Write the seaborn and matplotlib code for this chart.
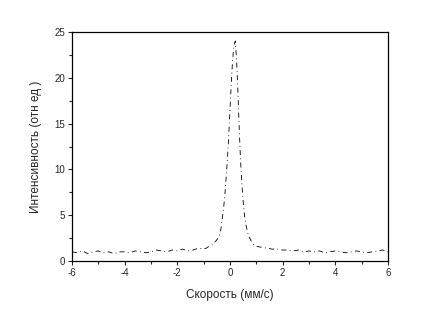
import numpy as np
import pandas as pd
import matplotlib
matplotlib.use("Agg")
import matplotlib.pyplot as plt
from matplotlib.ticker import MultipleLocator
import seaborn as sns

# Left wing: -6.0 .. -1.0 step 0.2
left_x = [-6.0, -5.8, -5.6, -5.4, -5.2, -5.0, -4.8, -4.6, -4.4, -4.2, -4.0, -3.8, -3.6,
          -3.4, -3.2, -3.0, -2.8, -2.6, -2.4, -2.2, -2.0, -1.8, -1.6, -1.4, -1.2, -1.0]
left_y = [1.0, 0.9, 1.1, 0.8, 1.0, 1.1, 0.9, 1.0, 0.8, 1.0, 1.0, 0.9, 1.1,
          1.0, 0.9, 1.0, 1.2, 1.1, 1.0, 1.2, 1.1, 1.3, 1.1, 1.2, 1.4, 1.3]
# Peak region
peak_x = [-0.9, -0.8, -0.7, -0.6, -0.5, -0.4, -0.35, -0.3, -0.25, -0.2, -0.15, -0.1, -0.05,
          0.0, 0.05, 0.1, 0.15, 0.2, 0.25, 0.3, 0.35, 0.4, 0.45, 0.5, 0.55, 0.6, 0.7, 0.8, 0.9, 1.0]
peak_y = [1.4, 1.6, 1.7, 2.0, 2.3, 2.8, 3.4, 4.5, 5.6, 7.0, 9.0, 11.0, 13.5,
          16.5, 19.5, 22.0, 23.5, 24.0, 22.0, 18.5, 14.5, 11.0, 8.5, 6.5, 5.0, 4.0, 2.8, 2.2, 1.8, 1.6]
# Right wing: 1.2 .. 6.0 step 0.2
right_x = [1.2, 1.4, 1.6, 1.8, 2.0, 2.2, 2.4, 2.6, 2.8, 3.0, 3.2, 3.4, 3.6,
           3.8, 4.0, 4.2, 4.4, 4.6, 4.8, 5.0, 5.2, 5.4, 5.6, 5.8, 6.0]
right_y = [1.5, 1.4, 1.3, 1.3, 1.2, 1.2, 1.1, 1.2, 1.0, 1.1, 1.0, 1.1, 0.9,
           1.0, 1.1, 1.0, 0.9, 1.0, 1.1, 1.0, 0.9, 1.0, 1.1, 1.2, 1.0]

x_label = "Скорость (мм/с)"
y_label = "Интенсивность (отн ед )"

df = pd.DataFrame({"v": left_x + peak_x + right_x, "i": left_y + peak_y + right_y})

sns.set_style("ticks")
plt.rcParams['font.family'] = ['Liberation Sans', 'DejaVu Sans']
plt.rcParams['axes.unicode_minus'] = False

fig = plt.figure(figsize=(4.4, 3.15), dpi=100)
ax = fig.add_axes([0.1636, 0.1714, 0.7182, 0.727])
sns.lineplot(data=df, x="v", y="i", ax=ax, color="black", linewidth=0.6,
             linestyle=(0, (6, 4, 1, 4)), sort=False)
ax.set_xlim(-6, 6)
ax.set_ylim(0, 25)
ax.xaxis.set_major_locator(MultipleLocator(2))
ax.xaxis.set_minor_locator(MultipleLocator(1))
ax.yaxis.set_major_locator(MultipleLocator(5))
ax.yaxis.set_minor_locator(MultipleLocator(2.5))
ax.tick_params(which="major", direction="out", length=3, width=0.8, labelsize=7, pad=2)
ax.tick_params(which="minor", direction="out", length=2, width=0.8)
for s in ax.spines.values():
    s.set_visible(True)
    s.set_linewidth(0.9)
    s.set_color("black")
ax.set_xlabel(x_label, fontsize=8.5, labelpad=8)
ax.set_ylabel(y_label, fontsize=8.5, labelpad=9)
fig.savefig("out.png", dpi=100)
